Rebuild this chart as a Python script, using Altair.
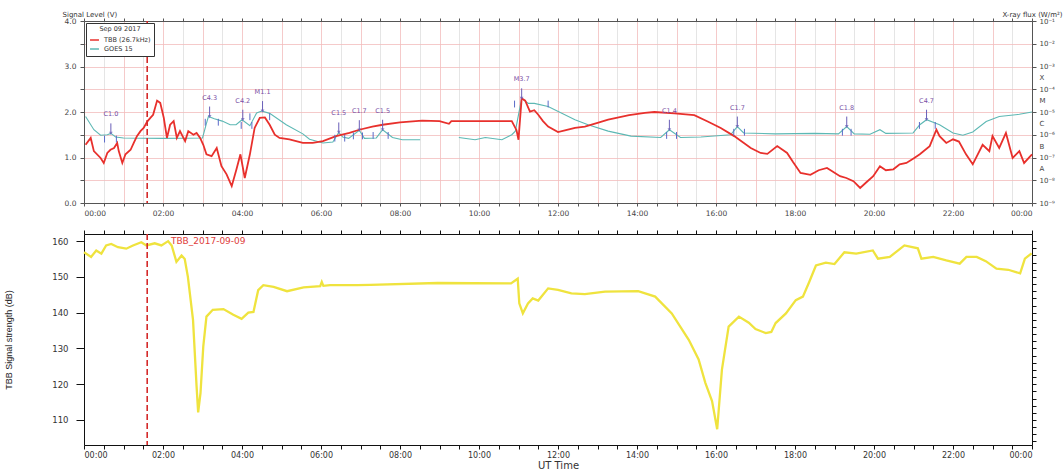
import altair as alt
import pandas as pd

# ---------------- data ----------------
# Top panel: TBB 26.7 kHz amplitude (V) vs UT hour
tbb_t = [0.04,0.17,0.25,0.42,0.50,0.59,0.67,0.76,0.84,0.88,0.97,1.05,1.18,1.26,1.34,1.43,1.51,1.60,1.68,1.75,
         1.85,1.93,2.02,2.10,2.18,2.27,2.35,2.43,2.56,2.64,2.77,2.85,2.94,3.02,3.10,3.23,3.36,3.48,3.61,3.74,
         3.86,3.96,4.07,4.20,4.32,4.45,4.58,4.70,4.83,4.95,5.20,5.54,5.79,6.05,6.38,6.72,6.97,7.30,7.56,8.0,
         8.56,9.0,9.24,9.3,9.9,10.4,10.83,10.95,11.0,11.08,11.17,11.29,11.4,11.5,11.62,11.75,12.0,12.2,12.43,12.68,
         13.0,13.27,13.8,14.2,14.44,14.95,15.45,15.79,16.12,16.46,16.88,17.13,17.3,17.55,17.8,17.95,18.14,18.39,18.6,18.81,
         19.14,19.3,19.48,19.65,19.8,19.98,20.15,20.3,20.49,20.65,20.82,21.0,21.16,21.41,21.58,21.66,21.83,22.0,22.15,22.33,
         22.5,22.75,22.92,23.0,23.17,23.34,23.51,23.68,23.8,24.0]
tbb_v = [1.28,1.43,1.14,0.99,0.88,1.10,1.17,1.21,1.32,1.14,0.88,1.07,1.17,1.32,1.47,1.58,1.65,1.79,1.87,1.94,
         2.25,2.20,1.87,1.43,1.72,1.80,1.43,1.58,1.36,1.58,1.50,1.54,1.43,1.28,1.07,1.03,1.21,0.81,0.63,0.37,
         0.74,1.07,0.55,1.07,1.65,1.87,1.88,1.72,1.50,1.43,1.40,1.32,1.32,1.36,1.47,1.54,1.61,1.68,1.72,1.77,
         1.81,1.80,1.74,1.80,1.80,1.80,1.80,1.60,1.39,2.30,2.25,2.01,2.04,1.94,1.80,1.68,1.56,1.60,1.65,1.68,
         1.76,1.83,1.93,1.98,2.00,1.97,1.93,1.79,1.65,1.47,1.21,1.10,1.08,1.25,1.10,0.90,0.66,0.62,0.72,0.77,
         0.59,0.55,0.48,0.33,0.45,0.59,0.81,0.72,0.74,0.85,0.88,0.98,1.07,1.25,1.61,1.47,1.32,1.40,1.35,1.07,
         0.85,1.28,1.14,1.47,1.21,1.54,0.99,1.14,0.88,1.07]

# GOES 15 X-ray flux, drawn in the panel's V units (two segments, data gap ~08:30-09:30)
goes_t1 = [0.04,0.25,0.42,0.59,0.68,0.8,1.0,2.0,3.0,3.1,3.15,3.3,3.5,3.7,3.85,4.0,4.2,4.37,4.5,4.7,
           5.12,5.54,5.71,6.05,6.3,6.45,6.55,6.7,6.97,7.1,7.4,7.56,7.81,8.06,8.51]
goes_v1 = [1.90,1.61,1.49,1.50,1.53,1.45,1.43,1.42,1.43,1.75,1.90,1.85,1.80,1.72,1.72,1.83,1.70,1.98,2.02,1.97,
           1.72,1.52,1.40,1.32,1.34,1.55,1.45,1.42,1.60,1.42,1.43,1.61,1.44,1.39,1.39]
goes_t2 = [9.49,9.9,10.16,10.58,10.83,10.92,11.08,11.25,11.4,11.75,12.43,12.76,13.27,13.85,14.6,14.82,15.1,15.62,16.37,16.54,
           16.7,17.5,18.5,19.1,19.31,19.5,19.9,20.15,20.3,20.99,21.16,21.33,21.66,22.0,22.25,22.5,22.84,23.17,23.68,24.0]
goes_v2 = [1.44,1.39,1.44,1.39,1.50,1.58,2.30,2.19,2.19,2.12,1.83,1.72,1.58,1.47,1.44,1.61,1.44,1.45,1.50,1.68,
           1.54,1.52,1.53,1.52,1.68,1.52,1.51,1.61,1.53,1.54,1.72,1.83,1.72,1.54,1.49,1.56,1.79,1.90,1.95,2.00]

# Flare annotations
flare_names   = ["C1.0","C4.3","C4.2","M1.1","C1.5","C1.7","C1.5","M3.7","C1.4","C1.7","C1.8","C4.7"]
flare_peak_t  = [0.68,3.18,4.02,4.52,6.45,6.97,7.56,11.08,14.82,16.54,19.31,21.33]
flare_peak_v  = [1.53,1.90,1.83,2.02,1.55,1.60,1.61,2.30,1.61,1.68,1.68,1.83]
flare_start_t = [0.52,3.07,3.98,4.20,6.35,6.82,7.32,10.90,14.75,16.45,19.20,21.15]
flare_end_t   = [0.82,3.40,4.25,4.70,6.60,7.05,7.70,11.75,15.00,16.72,19.42,21.55]

# Bottom panel: TBB signal strength (dB)
yel_t = [0,0.18,0.31,0.44,0.56,0.69,0.86,1.07,1.24,1.45,1.58,1.79,1.96,2.13,2.22,2.34,2.47,2.55,2.63,2.76,
         2.85,2.89,2.95,3.02,3.10,3.26,3.53,3.78,3.99,4.16,4.29,4.41,4.54,4.8,5.14,5.56,5.98,6.02,6.06,6.23,
         6.92,7.25,8.95,10.81,10.98,11.02,11.11,11.24,11.36,11.5,11.75,12.0,12.34,12.68,13.19,14.03,14.46,14.88,15.31,15.56,
         15.73,15.9,16.03,16.15,16.32,16.58,16.83,17.0,17.26,17.4,17.51,17.77,18.02,18.2,18.36,18.53,18.78,19.0,19.25,19.55,
         19.97,20.1,20.4,20.77,21.11,21.2,21.5,21.83,22.17,22.34,22.6,22.83,23.1,23.4,23.7,23.82,23.99]
yel_db = [156.9,155.6,157.4,156.5,158.8,159.2,158.3,157.9,158.8,159.7,158.8,159.4,158.8,160.0,158.8,154.2,156.0,155.0,150.0,138.0,
          119.4,112.1,117.6,130.6,138.9,140.8,141.0,139.4,138.3,140.0,140.2,146.3,147.7,147.2,146.0,147.1,147.4,148.6,147.5,147.7,
          147.7,147.8,148.3,148.2,149.5,142.6,139.8,142.6,144.0,143.4,146.8,146.4,145.4,145.2,145.9,146.0,144.5,139.8,132.4,126.9,
          120.4,115.3,107.4,124.1,136.1,138.9,137.2,135.4,134.3,134.6,137.1,139.8,143.5,144.5,148.6,153.2,154.0,153.6,156.9,156.5,
          157.4,155.1,155.6,158.8,158.0,155.1,155.6,154.6,153.7,155.6,155.6,154.4,152.3,152.0,151.0,155.1,156.6]

event_t = [1.6]                     # red dashed event marker (UT hour)
date_text = ["TBB_2017-09-09"]
date_text_t = [2.2]
date_text_db = [160.0]

series_names = ["TBB (26.7kHz)", "GOES 15"]
series_colors = ["#e8302c", "#5db8b4"]

# ---------------- frames ----------------
red_df = pd.DataFrame({"t": tbb_t, "v": tbb_v, "series": series_names[0], "seg": "a"})
goes_df = pd.concat([
    pd.DataFrame({"t": goes_t1, "v": goes_v1, "series": series_names[1], "seg": "g1"}),
    pd.DataFrame({"t": goes_t2, "v": goes_v2, "series": series_names[1], "seg": "g2"}),
])
flare_df = pd.DataFrame({"name": flare_names, "t": flare_peak_t, "v": flare_peak_v,
                         "ts": flare_start_t, "te": flare_end_t})
yel_df = pd.DataFrame({"t": yel_t, "db": yel_db})
event_df = pd.DataFrame({"t": event_t})
date_df = pd.DataFrame({"label": date_text, "t": date_text_t, "db": date_text_db})

FONT = "DejaVu Sans"
W = 948
H_TOP = 182
H_BOT = 211

half_hours = [i * 0.5 for i in range(49)]
time_label = ("datum.value % 2 == 0 ? ((datum.value % 24) < 10 ? '0' : '') + (datum.value % 24) + ':00' : ''")

xs = alt.Scale(domain=[0, 24], nice=False, zero=False)
ys_top = alt.Scale(domain=[0, 4], nice=False, zero=False)
ys_bot = alt.Scale(domain=[103, 162], nice=False, zero=False)

x_bottom_top = alt.X("t:Q", scale=xs, title=None, axis=alt.Axis(
    values=half_hours, labelExpr=time_label, tickSize=3, labelFontSize=7.5, labelFont=FONT,
    labelColor="#444", domainColor="#555", tickColor="#555", labelPadding=3,
    grid=True,
    gridColor={"condition": {"test": "datum.value % 1 == 0", "value": "#f3bcbc"}, "value": "#dedede"},
    gridWidth=0.8))
x_top_ticks = alt.X("t:Q", scale=xs, title=None, axis=alt.Axis(
    orient="top", values=half_hours, labels=False, tickSize=3, grid=False,
    domainColor="#555", tickColor="#555"))

y_left_top = alt.Y("v:Q", scale=ys_top, axis=alt.Axis(
    values=[i * 0.5 for i in range(9)],
    labelExpr="datum.value % 1 == 0 ? format(datum.value, '.1f') : ''",
    title="Signal Level (V)", titleAngle=0, titleAlign="left", titleBaseline="bottom",
    titleX=-22, titleY=-4, titleFontSize=7, titleFontWeight="normal", titleFont=FONT, titleColor="#333",
    labelFontSize=7.5, labelFont=FONT, labelColor="#444", tickSize=4, labelPadding=4,
    grid=True, gridColor="#f3bcbc", gridWidth=0.8, domainColor="#555", tickColor="#555"))

right_vals = [i * 0.5 for i in range(9)] + [0.75, 1.25, 1.75, 2.25, 2.75]
y_right_top = alt.Y("v:Q", scale=ys_top, axis=alt.Axis(
    orient="right", values=right_vals,
    labelExpr=("(datum.value * 2) % 1 == 0 ? '10' + ['⁻⁹','⁻⁸','⁻⁷','⁻⁶','⁻⁵','⁻⁴','⁻³','⁻²','⁻¹'][round(datum.value * 2)]"
               " : ['A','B','C','M','X'][round((datum.value - 0.75) * 2)]"),
    tickOpacity={"condition": {"test": "(datum.value * 2) % 1 != 0", "value": 0}, "value": 1},
    title="X-ray flux (W/m²)", titleAngle=0, titleAlign="right", titleBaseline="bottom",
    titleX=30, titleY=-4, titleFontSize=7, titleFontWeight="normal", titleFont=FONT, titleColor="#333",
    labelFontSize=7, labelFont=FONT, labelColor="#444", tickSize=4, labelPadding=3,
    grid=False, domainColor="#555", tickColor="#555"))

color_enc = alt.Color("series:N", scale=alt.Scale(domain=series_names, range=series_colors),
                      legend=alt.Legend(title="Sep 09 2017", orient="top-left", symbolType="stroke",
                                        symbolStrokeWidth=1.5, symbolSize=80, titleFontSize=6.5,
                                        titleFontWeight="normal", titleFont=FONT, labelFont=FONT,
                                        labelFontSize=6.5, titleAnchor="middle", strokeColor="#333",
                                        fillColor="white", padding=3, offset=2, rowPadding=0,
                                        titlePadding=2, labelColor="#333", titleColor="#333"))

goes_layer = alt.Chart(goes_df).mark_line(strokeWidth=1.1).encode(
    x=x_bottom_top, y=y_right_top, color=color_enc, detail="seg:N", order="t:Q")
red_layer = alt.Chart(red_df).mark_line(strokeWidth=1.8).encode(
    x=x_top_ticks, y=y_left_top, color=color_enc, detail="seg:N", order="t:Q")

flare_base = alt.Chart(flare_df)
flare_stem = flare_base.transform_calculate(v2="datum.v + 0.22").mark_rule(
    color="#6a5fb8", strokeWidth=1).encode(
    x=alt.X("t:Q", scale=xs, axis=None), y=alt.Y("v:Q", scale=ys_top, axis=None), y2="v2:Q")
flare_dot = flare_base.mark_point(shape="triangle-down", size=14, filled=True, color="#6a5fb8").encode(
    x=alt.X("t:Q", scale=xs, axis=None), y=alt.Y("v:Q", scale=ys_top, axis=None))
flare_start = flare_base.transform_calculate(y1="datum.v - 0.2", y2="datum.v - 0.05").mark_rule(
    color="#5a6ac8", strokeWidth=1).encode(
    x=alt.X("ts:Q", scale=xs, axis=None), y=alt.Y("y1:Q", scale=ys_top, axis=None), y2="y2:Q")
flare_end = flare_base.transform_calculate(y1="datum.v - 0.2", y2="datum.v - 0.05").mark_rule(
    color="#5a6ac8", strokeWidth=1).encode(
    x=alt.X("te:Q", scale=xs, axis=None), y=alt.Y("y1:Q", scale=ys_top, axis=None), y2="y2:Q")
flare_text = flare_base.mark_text(color="#7a4fa5", fontSize=6.5, font=FONT, dy=-16, baseline="bottom").encode(
    x=alt.X("t:Q", scale=xs, axis=None), y=alt.Y("v:Q", scale=ys_top, axis=None), text="name:N")

event_top = alt.Chart(event_df).mark_rule(color="#d42a2a", strokeWidth=1.6, strokeDash=[6, 3]).encode(
    x=alt.X("t:Q", scale=xs, axis=None))

top = alt.layer(goes_layer, red_layer, flare_stem, flare_start, flare_end, flare_dot, flare_text, event_top).resolve_axis(
    x="independent", y="independent").properties(width=W, height=H_TOP)

# ---------------- bottom panel ----------------
x_bot = alt.X("t:Q", scale=xs, title="UT Time", axis=alt.Axis(
    values=half_hours, labelExpr=time_label, tickSize=4, labelFontSize=8, labelFont=FONT,
    labelColor="#333", domainColor="#111", tickColor="#111", labelPadding=2,
    titleFontSize=10, titleFont=FONT, titleFontWeight="normal", titleColor="#333", titlePadding=1,
    grid=False))
y_bot = alt.Y("db:Q", scale=ys_bot, title="TBB Signal strength (dB)", axis=alt.Axis(
    values=[110, 120, 130, 140, 150, 160], tickSize=8, labelFontSize=8.5, labelFont=FONT,
    labelColor="#333", labelPadding=8, domainColor="#111", tickColor="#111", grid=False,
    titleFontSize=9, titleFont="Liberation Sans", titleFontWeight="normal", titleColor="#222",
    titlePadding=38))

yellow = alt.Chart(yel_df).mark_line(color="#efe33e", strokeWidth=2.3).encode(x=x_bot, y=y_bot, order="t:Q")

date_mark = alt.Chart(date_df).mark_text(color="#e0403c", fontSize=9, font=FONT, align="left",
                                         baseline="middle").encode(
    x=alt.X("t:Q", scale=xs, axis=alt.Axis(orient="top", values=half_hours, labels=False, tickSize=4,
                                           grid=False, domainColor="#111", tickColor="#111", title=None)),
    y=alt.Y("db:Q", scale=ys_bot, axis=alt.Axis(orient="right", values=list(range(104, 162, 2)), labels=False,
                                                 tickSize=4, grid=False, domainColor="#111", tickColor="#111",
                                                 title=None)),
    text="label:N")

event_bot = alt.Chart(event_df).mark_rule(color="#d42a2a", strokeWidth=1.6, strokeDash=[6, 3]).encode(
    x=alt.X("t:Q", scale=xs, axis=None))

bottom = alt.layer(yellow, event_bot, date_mark).resolve_axis(
    x="independent", y="independent").properties(width=W, height=H_BOT)

chart = alt.vconcat(top, bottom, spacing=12).properties(
    padding={"left": 4, "top": 9, "right": 0, "bottom": 0}
).configure_view(stroke="#333", strokeWidth=1).configure(background="white")

chart.save("out.html", embed_options={"renderer": "svg", "actions": False})
